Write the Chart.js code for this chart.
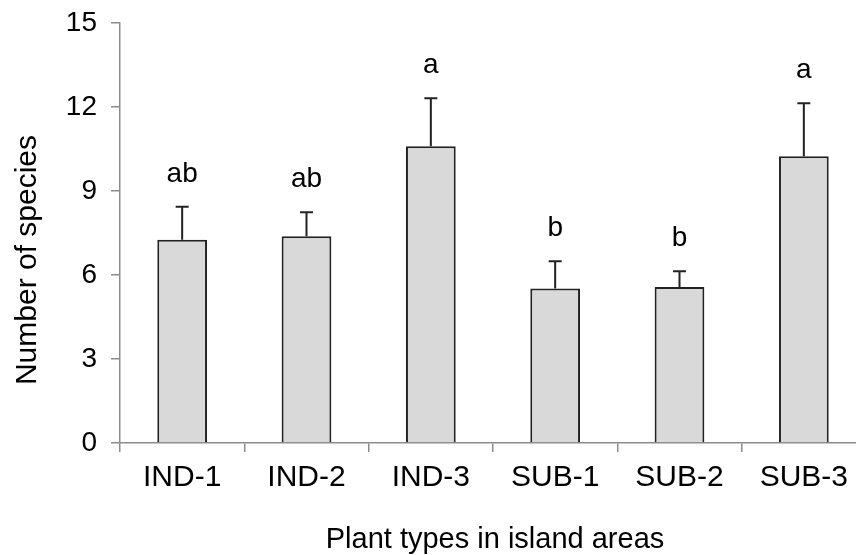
<!DOCTYPE html>
<html>
<head>
<meta charset="utf-8">
<script src="https://cdn.jsdelivr.net/npm/chart.js@4"></script>
<style>
  html, body { margin: 0; padding: 0; background: #fff; overflow: hidden; }
  #wrap { width: 856px; height: 555px; overflow: hidden; }
</style>
</head>
<body>
<div id="wrap"><canvas id="chart" width="880" height="555"></canvas></div>
<script>
const categories = ['IND-1', 'IND-2', 'IND-3', 'SUB-1', 'SUB-2', 'SUB-3'];
const means = [7.26, 7.38, 10.6, 5.52, 5.57, 10.24];
const errors = [1.18, 0.86, 1.71, 0.97, 0.56, 1.89];
const letters = ['ab', 'ab', 'a', 'b', 'b', 'a'];
const yTicks = [0, 3, 6, 9, 12, 15];

const FONT = '"Liberation Sans", Arial, sans-serif';
const AXIS_GREY = '#8c8c8c';

// error bars (upper only) + significance letters
const errorBarsPlugin = {
    id: 'errorBars',
    afterDatasetsDraw(chart) {
        const { ctx, scales } = chart;
        const meta = chart.getDatasetMeta(0);
        ctx.save();
        ctx.strokeStyle = '#222';
        ctx.lineWidth = 2;
        ctx.fillStyle = '#000';
        ctx.font = '28px ' + FONT;
        ctx.textAlign = 'center';
        ctx.textBaseline = 'alphabetic';
        meta.data.forEach((bar, i) => {
            const x = bar.x;
            const yTop = scales.y.getPixelForValue(means[i] + errors[i]);
            const yBar = scales.y.getPixelForValue(means[i]);
            ctx.beginPath();
            ctx.moveTo(x, yBar);
            ctx.lineTo(x, yTop);
            ctx.moveTo(x - 6.5, yTop);
            ctx.lineTo(x + 6.5, yTop);
            ctx.stroke();
            ctx.fillText(letters[i], x, yTop - 25);
        });
        ctx.restore();
    }
};

// axis titles
const axisTitlesPlugin = {
    id: 'axisTitles',
    afterDraw(chart) {
        const { ctx, chartArea } = chart;
        ctx.save();
        ctx.fillStyle = '#000';
        ctx.font = '29px ' + FONT;
        ctx.textAlign = 'center';
        ctx.textBaseline = 'alphabetic';
        ctx.fillText('Plant types in island areas', (chartArea.left + chartArea.right) / 2 + 2, chartArea.bottom + 105);

        ctx.font = '30px ' + FONT;
        ctx.translate(36, (chartArea.top + chartArea.bottom) / 2 + 27);
        ctx.rotate(-Math.PI / 2);
        ctx.fillText('Number of species', 0, 0);
        ctx.restore();
    }
};

new Chart(document.getElementById('chart'), {
    type: 'bar',
    data: {
        labels: categories,
        datasets: [{
            data: means,
            backgroundColor: '#d9d9d9',
            borderColor: '#222',
            borderWidth: 2,
            borderSkipped: 'bottom',
            barPercentage: 0.4,
            categoryPercentage: 1
        }]
    },
    options: {
        responsive: false,
        animation: false,
        devicePixelRatio: 1,
        layout: { padding: { top: 23, right: 14, bottom: 0, left: 0 } },
        plugins: {
            legend: { display: false },
            tooltip: { enabled: false }
        },
        scales: {
            x: {
                afterFit(scale) { scale.height = 112; },
                border: { display: true, color: AXIS_GREY, width: 1.5 },
                grid: {
                    offset: true,
                    drawOnChartArea: false,
                    drawTicks: true,
                    tickLength: 9,
                    color: AXIS_GREY,
                    lineWidth: 1.5
                },
                ticks: {
                    color: '#000',
                    padding: 8,
                    font: { family: FONT, size: 30 }
                }
            },
            y: {
                min: 0,
                max: 15,
                afterFit(scale) {
                    scale.width = 120;
                    scale.paddingTop = 0;
                    scale.paddingBottom = 0;
                },
                afterBuildTicks(scale) { scale.ticks = yTicks.map(v => ({ value: v })); },
                border: { display: true, color: AXIS_GREY, width: 1.5 },
                grid: {
                    drawOnChartArea: false,
                    drawTicks: true,
                    tickLength: 9,
                    color: AXIS_GREY,
                    lineWidth: 1.5
                },
                ticks: {
                    color: '#000',
                    padding: 14,
                    font: { family: FONT, size: 28 }
                }
            }
        }
    },
    plugins: [errorBarsPlugin, axisTitlesPlugin]
});
</script>
</body>
</html>
